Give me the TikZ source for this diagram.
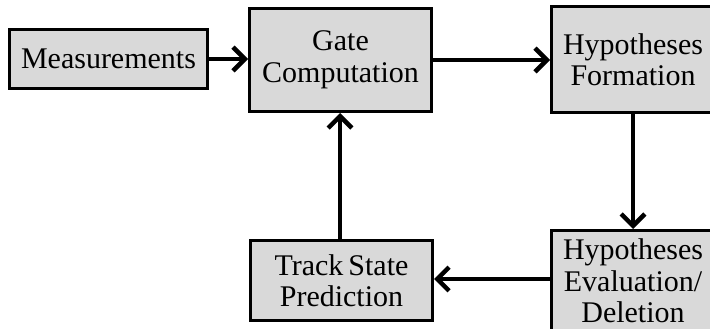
\documentclass[tikz,border=0pt]{standalone}
\usepackage{fontspec}
\setmainfont{Liberation Serif}
\usetikzlibrary{arrows.meta}
\definecolor{boxfill}{HTML}{D9D9D9}
\tikzset{
  blk/.style={draw=black, line width=3pt, fill=boxfill, align=center,
    inner sep=0pt, font=\fontsize{30}{31.5}\selectfont},
  flow/.style={line width=3.2pt, -{Straight Barb[line width=4.5pt, scale=1.5]}}
}
\begin{document}
\begin{tikzpicture}[x=1pt,y=-1pt]
\useasboundingbox (0,0) rectangle (710,329);
\clip (0,0) rectangle (710,329);
\node[blk, minimum width=198pt, minimum height=59pt] (meas) at (108.5,59) {Measurements};
\node[blk, minimum width=182pt, minimum height=103pt] (gate) at (340.5,60) {Gate\\Computation};
\node[blk, minimum width=163pt, minimum height=106pt] (form) at (633,59.5) {Hypotheses\\Formation};
\node[blk, minimum width=163pt, minimum height=101pt] (eval) at (633,281) {Hypotheses\\Evaluation/\\Deletion};
\node[blk, minimum width=182pt, minimum height=80pt] (pred) at (341.5,280.5) {Track\,State\\Prediction};
\draw[flow] (meas.east) -- (meas.east -| gate.west);
\draw[flow] (gate.east) -- (gate.east -| form.west);
\draw[flow] (form.south) -- (eval.north);
\draw[flow] (eval.west |- 0,279) -- (pred.east |- 0,279);
\draw[flow] (340,0 |- pred.north) -- (340,0 |- gate.south);
\end{tikzpicture}
\end{document}
